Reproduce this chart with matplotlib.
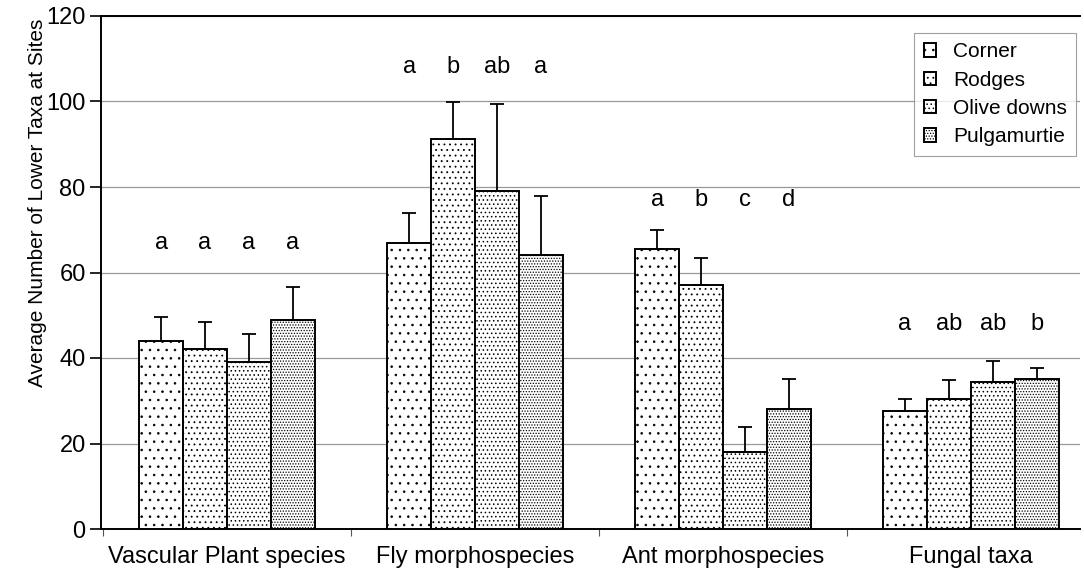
import matplotlib.pyplot as plt
import numpy as np

plt.rcParams['font.family'] = ['Liberation Sans', 'DejaVu Sans']
plt.rcParams['hatch.linewidth'] = 0.6

# === data ===
categories = ["Vascular Plant species", "Fly morphospecies", "Ant morphospecies", "Fungal taxa"]
sites = ["Corner", "Rodges", "Olive downs", "Pulgamurtie"]

corner = [44, 67, 65.5, 27.5]
rodges = [42, 91.3, 57, 30.5]
olive = [39, 79, 18, 34.5]
pulga = [49, 64, 28, 35.2]

corner_err = [5.5, 7, 4.5, 2.8]
rodges_err = [6.5, 8.5, 6.3, 4.3]
olive_err = [6.5, 20.5, 5.9, 4.7]
pulga_err = [7.5, 14, 7, 2.4]

letters = [["a", "a", "a", "a"],
           ["a", "b", "ab", "a"],
           ["a", "b", "c", "d"],
           ["a", "ab", "ab", "b"]]
letter_y = [67, 108, 77, 48]

hatches = ["..", "...", "....", "......"]

# === plot ===
fig = plt.figure(figsize=(10.84, 5.69), dpi=100)
ax = fig.add_axes([101 / 1084, 40 / 569, 979 / 1084, 513 / 569])

x = np.arange(len(categories))
w = 0.177
series = [corner, rodges, olive, pulga]
errs = [corner_err, rodges_err, olive_err, pulga_err]

for i, (vals, err) in enumerate(zip(series, errs)):
    pos = x + (i - 1.5) * w
    ax.bar(pos, vals, w, color="white", edgecolor="black", linewidth=1.4,
           hatch=hatches[i], label=sites[i], zorder=3)
    ax.errorbar(pos, vals, yerr=[np.zeros(len(vals)), err], fmt="none",
                ecolor="black", elinewidth=1.3, capsize=5, capthick=1.3, zorder=4)

for g in range(len(categories)):
    for i in range(4):
        ax.text(x[g] + (i - 1.5) * w, letter_y[g], letters[g][i],
                ha="center", va="center", fontsize=17)

ax.set_xlim(-0.508, 3.44)
ax.set_ylim(0, 120)
ax.set_yticks(range(0, 121, 20))
ax.yaxis.grid(True, color="#999999", linewidth=0.9)
ax.set_axisbelow(True)
ax.set_xticks(x)
ax.set_xticklabels(categories)
ax.set_xticks(x + 0.5 - 1, minor=True)
ax.tick_params(axis="x", which="major", length=0, labelsize=17, pad=12)
ax.tick_params(axis="x", which="minor", length=5, width=0.8, color="#555555")
ax.tick_params(axis="y", length=8, width=1.2, labelsize=17, pad=3)
ax.set_ylabel("Average Number of Lower Taxa at Sites", fontsize=15, labelpad=10)
ax.yaxis.set_label_coords(-0.055, 0.635)

ax.spines["right"].set_visible(False)
for s in ["left", "bottom", "top"]:
    ax.spines[s].set_linewidth(1.4)

leg = ax.legend(loc="upper right", bbox_to_anchor=(0.996, 0.967), fontsize=15,
                fancybox=False, edgecolor="#888888", handlelength=0.6,
                handleheight=0.6, labelspacing=0.45, borderpad=0.45,
                handletextpad=0.8, borderaxespad=0)
leg.get_frame().set_linewidth(0.8)

plt.savefig("out.png", dpi=100)
